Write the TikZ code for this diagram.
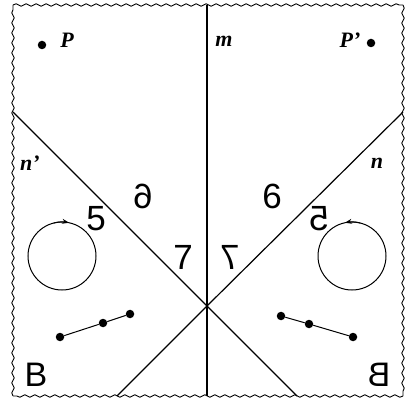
\documentclass[tikz,border=0pt]{standalone}
\usepackage{fontspec}
\usepackage{graphicx}
\setmainfont{Liberation Serif}
\newfontfamily\digitfont{Liberation Sans}
\usetikzlibrary{decorations.pathmorphing,arrows.meta}
\begin{document}
\begin{tikzpicture}[x=1pt,y=1pt,
  mline/.style={line width=1.2pt},
  wavy/.style={line width=0.9pt,decorate,decoration={snake,segment length=10pt,amplitude=1.2pt}},
  dig/.style={inner sep=0pt,font=\digitfont\fontsize{35}{35}\selectfont},
  lett/.style={inner sep=0pt,font=\digitfont\fontsize{34}{34}\selectfont},
  lab/.style={inner sep=0pt,font=\bfseries\itshape\fontsize{22}{22}\selectfont},
  pt/.style={circle,fill=black,inner sep=0pt,minimum size=8.5pt},
  circ/.style={line width=1pt},
  arrtip/.style={line width=1pt,-{Stealth[length=7pt,width=5pt]}}]
\useasboundingbox (0,0) rectangle (408,400);
% frame corners
\coordinate (TL) at (13,395);
\coordinate (TR) at (403,395);
\coordinate (BR) at (403,4);
\coordinate (BL) at (13,4);
\draw[wavy] (TL) -- (TR);
\draw[wavy] (TR) -- (BR);
\draw[wavy] (BR) -- (BL);
\draw[wavy] (BL) -- (TL);
% lines
\coordinate (mt) at (207,395);
\coordinate (mb) at (207,4);
\coordinate (X) at (207,94);
\coordinate (npL) at (13,288);
\coordinate (npB) at (297,4);
\coordinate (nR) at (403,288);
\coordinate (nB) at (117,4);
\draw[mline] (mt) -- (mb);
\draw[mline] (npL) -- (X) -- (npB);
\draw[mline] (nR) -- (X) -- (nB);
% points P and P'
\node[pt] (P) at (42,355) {};
\node[lab] (Plab) at (67,360) {P};
\node[pt] (Pp) at (371,357) {};
\node[lab] (Pplab) at (350,360) {P’};
% line labels
\node[lab] (mlab) at (224,359) {m};
\node[lab] (nplab) at (30,237) {n’};
\node[lab] (nlab) at (377,237) {n};
% digits
\node[dig] (fiveL) at (96,181) {5};
\node[dig] (fiveR) at (319,181) {\reflectbox{5}};
\node[dig] (sixL) at (143,204) {\reflectbox{6}};
\node[dig] (sixR) at (272,204) {6};
\node[dig] (sevenL) at (183,143) {7};
\node[dig] (sevenR) at (230,143) {\reflectbox{7}};
\node[lett] (BLt) at (36,25) {B};
\node[lett] (BRt) at (379,25) {\reflectbox{B}};
% circles with arrows
\coordinate (cL) at (62,144);
\coordinate (cR) at (352,144);
\draw[circ] (cL) circle[radius=34];
\draw[circ] (cR) circle[radius=34];
\draw[arrtip] (cL) ++(104:34) arc[start angle=104,end angle=78,radius=34];
\draw[arrtip] (cR) ++(76:34) arc[start angle=76,end angle=102,radius=34];
% dot segments
\node[pt] (a1) at (60,63) {};
\node[pt] (a2) at (103,77) {};
\node[pt] (a3) at (130,86) {};
\draw[circ] (a1) -- (a2) -- (a3);
\node[pt] (b1) at (281,84) {};
\node[pt] (b2) at (309,76) {};
\node[pt] (b3) at (353,63) {};
\draw[circ] (b1) -- (b2) -- (b3);
\end{tikzpicture}
\end{document}
